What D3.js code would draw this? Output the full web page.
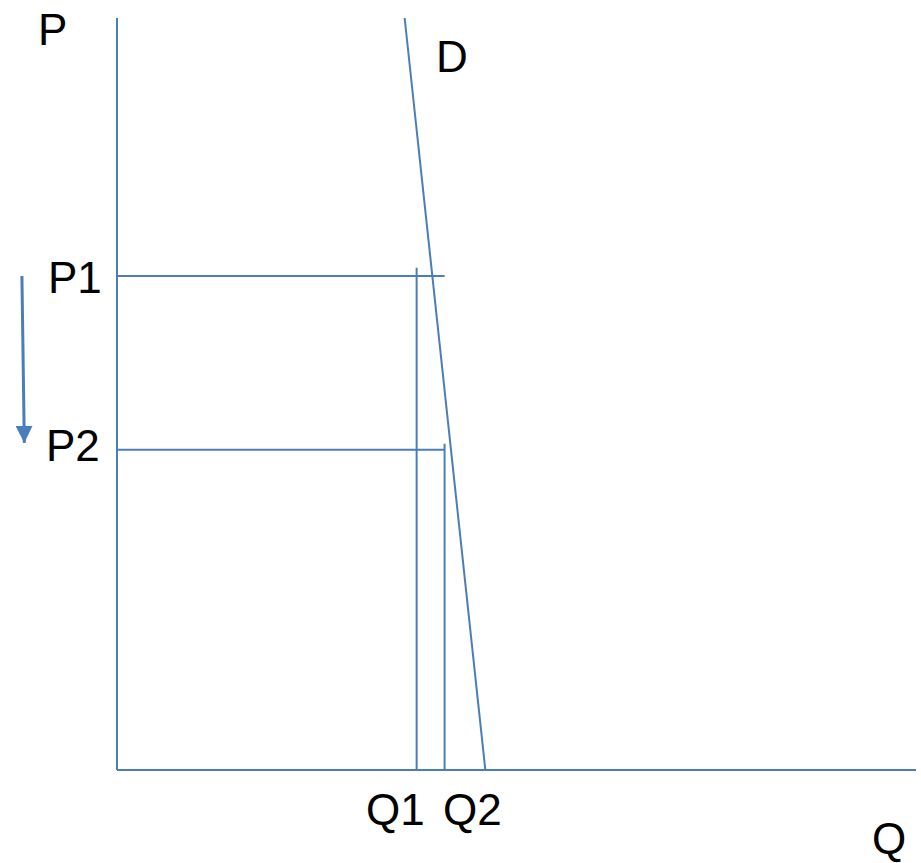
<!DOCTYPE html>
<html><head><meta charset="utf-8">
<script src="https://cdn.jsdelivr.net/npm/d3@7/dist/d3.min.js"></script>
<style>body{margin:0;background:#fff}svg{display:block}text{font-family:"Liberation Sans",Arial,sans-serif;font-size:44px;fill:#000}</style>
</head><body><svg id="c" width="921" height="863"></svg>
<script>
// Data (quantity and price in chart units 0..100)
const demandCurve = [{q:36.0,p:100},{q:46.1,p:0}];
const prices = [{name:"P1",p:65.7},{name:"P2",p:42.6}];
const quantities = [{name:"Q1",q:37.5,top:66.8},{name:"Q2",q:41.0,top:43.4}];
const priceLineEnd = 41.0;
const arrow = {q:-11.9, from:65.7, qTip:-11.6, to:43.5};

const color = "#4a7ebb";
const svg = d3.select("#c");
const x = d3.scaleLinear().domain([0,100]).range([117,916]);
const y = d3.scaleLinear().domain([0,100]).range([770,18]);

// axes
svg.append("line").attr("x1",x(0)).attr("x2",x(0)).attr("y1",y(100)).attr("y2",y(0)).attr("stroke",color).attr("stroke-width",2);
svg.append("line").attr("x1",x(0)).attr("x2",x(100)).attr("y1",y(0)).attr("y2",y(0)).attr("stroke",color).attr("stroke-width",2);

// price lines
svg.selectAll(".pl").data(prices).enter().append("line")
  .attr("x1",x(0)).attr("x2",x(priceLineEnd)).attr("y1",d=>y(d.p)).attr("y2",d=>y(d.p))
  .attr("stroke",color).attr("stroke-width",2);
// quantity lines
svg.selectAll(".ql").data(quantities).enter().append("line")
  .attr("x1",d=>x(d.q)).attr("x2",d=>x(d.q)).attr("y1",d=>y(d.top)).attr("y2",y(0))
  .attr("stroke",color).attr("stroke-width",2);
// demand
svg.append("path").datum(demandCurve)
  .attr("d",d3.line().x(d=>x(d.q)).y(d=>y(d.p)))
  .attr("fill","none").attr("stroke",color).attr("stroke-width",2);

// arrow
svg.append("defs").append("marker").attr("id","ah").attr("viewBox","0 0 10 10")
  .attr("refX",10).attr("refY",5).attr("markerWidth",17).attr("markerHeight",17)
  .attr("markerUnits","userSpaceOnUse").attr("orient","auto")
  .append("path").attr("d","M0,0L10,5L0,10Z").attr("fill",color);
svg.append("line").attr("x1",x(arrow.q)).attr("y1",y(arrow.from))
  .attr("x2",x(arrow.qTip)).attr("y2",y(arrow.to))
  .attr("stroke",color).attr("stroke-width",3).attr("marker-end","url(#ah)");

// labels
const labels = [
  {t:"P",x:38,y:45},{t:"D",x:436,y:72},{t:"P1",x:48,y:293},{t:"P2",x:46,y:461},
  {t:"Q1",x:366,y:825},{t:"Q2",x:443,y:825},{t:"Q",x:872,y:854}
];
svg.selectAll(".lb").data(labels).enter().append("text")
  .attr("x",d=>d.x).attr("y",d=>d.y).text(d=>d.t);
</script></body></html>
